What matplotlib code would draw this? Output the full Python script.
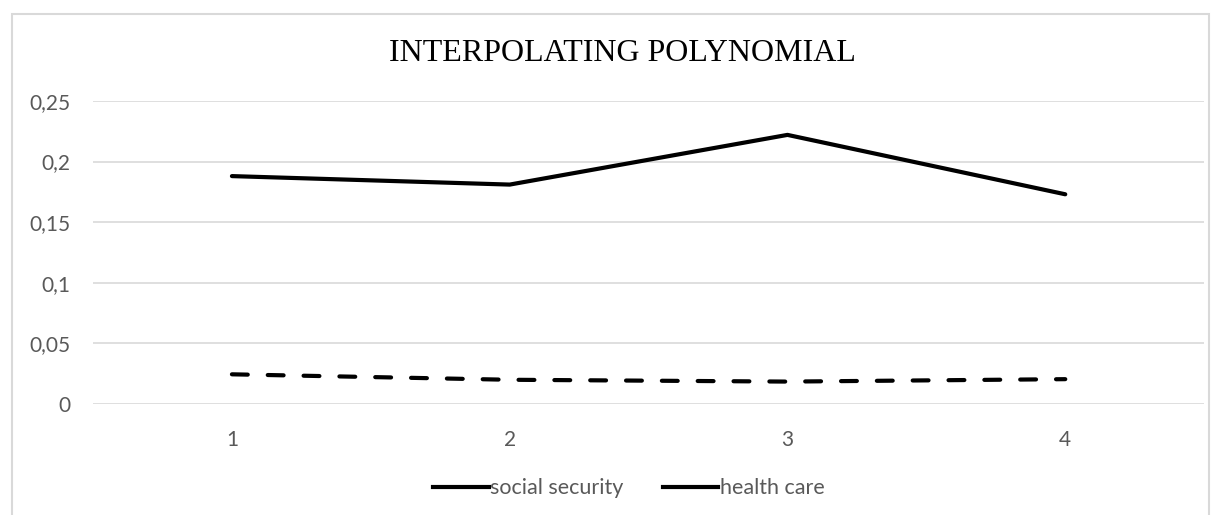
import matplotlib.pyplot as plt
from matplotlib.lines import Line2D
from matplotlib.patches import Rectangle

periods = [1, 2, 3, 4]
social_security = [0.188, 0.181, 0.222, 0.173]
health_care = [0.0245, 0.0200, 0.0185, 0.0205]
y_ticks = [0, 0.05, 0.1, 0.15, 0.2, 0.25]
y_labels = ["0", "0,05", "0,1", "0,15", "0,2", "0,25"]

txt = "#595959"
grid = "#d9d9d9"

fig = plt.figure(figsize=(12.21, 5.15), dpi=100)
ax = fig.add_axes([0.0762, 0.2155, 0.910, 0.5885])

ax.plot(periods, social_security, color="black", lw=3, solid_capstyle="round")
ax.plot(periods, health_care, color="black", lw=3, dashes=(3.8, 4.8),
        dash_capstyle="round")

ax.set_xlim(0.5, 4.5)
ax.set_ylim(0, 0.25)
ax.set_xticks(periods)
ax.set_xticklabels([str(p) for p in periods])
ax.set_yticks(y_ticks)
ax.set_yticklabels(y_labels)
ax.tick_params(length=0, labelsize=15, labelcolor=txt)
ax.tick_params(axis="x", pad=19)
ax.tick_params(axis="y", pad=16)
for lab in ax.get_xticklabels() + ax.get_yticklabels():
    lab.set_family("Lato")
ax.yaxis.grid(True, color=grid, lw=1.2)
ax.set_axisbelow(True)
for s in ax.spines.values():
    s.set_visible(False)

fig.text(0.51, 0.897, "INTERPOLATING POLYNOMIAL", ha="center", va="center",
         family="Liberation Serif", fontsize=23, color="black")

handles = [Line2D([], [], color="black", lw=3),
           Line2D([], [], color="black", lw=3)]
fig.legend(handles, ["social security", "health care"], loc="center",
           bbox_to_anchor=(0.515, 0.052), ncol=2, frameon=False,
           handlelength=2.6, handletextpad=0.05, columnspacing=1.8,
           prop={"family": "Lato", "size": 15.5}, labelcolor=txt)

fig.patches.append(Rectangle((0.0095, -0.01), 0.981, 0.983, transform=fig.transFigure,
                             fill=False, edgecolor="#d9d9d9", lw=1.5))

fig.savefig("out.png", dpi=100, facecolor="white")
